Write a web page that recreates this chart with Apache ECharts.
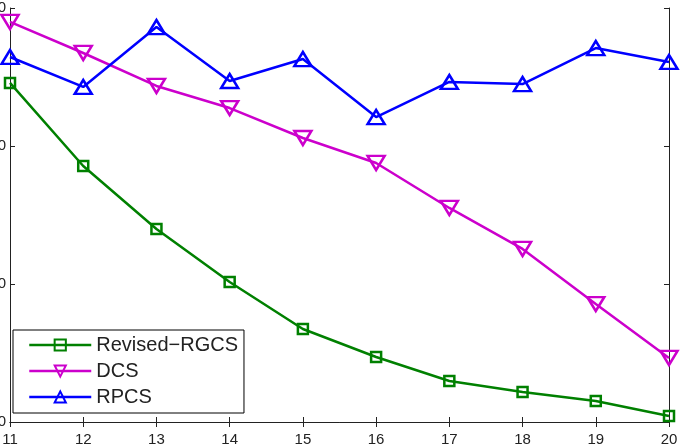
<!DOCTYPE html>
<html>
<head>
<meta charset="utf-8">
<script src="https://cdn.jsdelivr.net/npm/echarts@6/dist/echarts.min.js"></script>
<style>
    html, body {margin: 0; padding: 0; background: #fff;}
    #chart {width: 683px; height: 445px;}
</style>
</head>
<body>
<div id="chart"></div>
<script>
    // x positions (shared by all series)
    var xValues = [11, 12, 13, 14, 15, 16, 17, 18, 19, 20];
    var yTicks = [0, 10, 20, 30];

    var seriesNames = ['Revised−RGCS', 'DCS', 'RPCS'];
    var revisedRgcs = [24.57, 18.55, 13.99, 10.14, 6.74, 4.71, 2.97, 2.17, 1.52, 0.43];
    var dcs = [28.99, 26.74, 24.35, 22.75, 20.58, 18.77, 15.51, 12.54, 8.55, 4.64];
    var rpcs = [26.45, 24.28, 28.62, 24.71, 26.30, 22.10, 24.64, 24.49, 27.10, 26.09];

    function pairs(vals) {
        return vals.map(function (v, i) {
            return [xValues[i], v];
        });
    }

    function makeSeries(name, vals, color, symbol, size) {
        return {
            name: name,
            type: 'line',
            data: pairs(vals),
            symbol: symbol,
            symbolSize: size,
            showAllSymbol: true,
            clip: false,
            lineStyle: {color: color, width: 2.5},
            itemStyle: {color: 'rgba(255,255,255,0)', borderColor: color, borderWidth: 2.5},
            emphasis: {disabled: true},
            z: 3
        };
    }

    var axisLine = {show: true, lineStyle: {color: '#222', width: 1}};
    var tickStyle = {show: true, inside: true, length: 5, lineStyle: {color: '#222'}};

    var myChart = echarts.init(document.getElementById('chart'));
    myChart.setOption({
        animation: false,
        textStyle: {fontFamily: 'Liberation Sans, Arial, sans-serif'},
        grid: {left: 10, right: 14, top: 8, bottom: 23, containLabel: false, outerBoundsMode: 'none'},
        legend: {
            orient: 'vertical',
            left: 13,
            top: 330,
            padding: [5, 6, 6, 15],
            itemWidth: 62,
            itemHeight: 14,
            itemGap: 6,
            itemTextGap: 8,
            borderColor: '#000',
            borderWidth: 1,
            backgroundColor: '#fff',
            lineStyle: {width: 2.5},
            textStyle: {fontSize: 20, color: '#222', fontFamily: 'Liberation Sans, Arial, sans-serif'},
            data: seriesNames
        },
        xAxis: [
            {
                type: 'value',
                min: 11,
                max: 20,
                interval: 1,
                axisLine: axisLine,
                axisTick: tickStyle,
                splitLine: {show: false},
                axisLabel: {fontSize: 15, color: '#222', margin: 10}
            },
            {
                type: 'value',
                position: 'top',
                min: 11,
                max: 20,
                interval: 1,
                axisLine: axisLine,
                axisTick: tickStyle,
                splitLine: {show: false},
                axisLabel: {show: false}
            }
        ],
        yAxis: [
            {
                type: 'value',
                min: yTicks[0],
                max: yTicks[yTicks.length - 1],
                interval: 10,
                axisLine: axisLine,
                axisTick: tickStyle,
                splitLine: {show: false},
                axisLabel: {fontSize: 15, color: '#222', margin: 4}
            },
            {
                type: 'value',
                position: 'right',
                min: yTicks[0],
                max: yTicks[yTicks.length - 1],
                interval: 10,
                axisLine: axisLine,
                axisTick: tickStyle,
                splitLine: {show: false},
                axisLabel: {show: false}
            }
        ],
        series: [
            makeSeries(seriesNames[0], revisedRgcs, '#008000', 'rect', 10),
            makeSeries(seriesNames[1], dcs, '#cc00cc', 'path://M0,0 L2,0 L1,1.7 Z', [17, 14]),
            makeSeries(seriesNames[2], rpcs, '#0000ff', 'triangle', [17, 14])
        ]
    });
</script>
</body>
</html>
